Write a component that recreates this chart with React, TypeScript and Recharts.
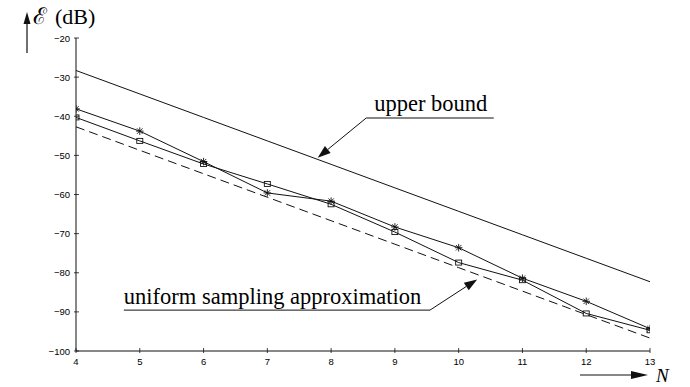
import React from 'react';
import { LineChart, Line, XAxis, YAxis, ReferenceLine } from 'recharts';

const nValues = [4, 5, 6, 7, 8, 9, 10, 11, 12, 13];
const upperBound = [-28.3, -34.3, -40.3, -46.3, -52.3, -58.3, -64.3, -70.3, -76.3, -82.3];
const starSeries = [-38.1, -43.8, -51.6, -59.6, -61.7, -68.3, -73.6, -81.4, -87.3, -94.3];
const squareSeries = [-40.3, -46.3, -52.2, -57.3, -62.5, -69.6, -77.4, -81.9, -90.4, -94.7];
const uniformApprox = [-42.7, -48.7, -54.7, -60.7, -66.7, -72.7, -78.7, -84.7, -90.7, -96.7];
const xTicks = [4, 5, 6, 7, 8, 9, 10, 11, 12, 13];
const yTicks = [-100, -90, -80, -70, -60, -50, -40, -30, -20];

// annotation anchors in data coordinates [N, dB]
const upperNoteLine = [[8.55, -40.45], [10.55, -40.45]];
const upperNoteTip = [7.79, -50.6];
const uniformNoteLine = [[4.75, -89.55], [9.55, -89.55]];
const uniformNoteTip = [10.29, -81.7];

const data = nValues.map((n, i) => ({
  n,
  upper: upperBound[i],
  star: starSeries[i],
  square: squareSeries[i],
  approx: uniformApprox[i],
}));

const INK = '#111';
const fmt = (v: number) => (v < 0 ? '\u2212' + Math.abs(v) : String(v));
const tickFont = { fontFamily: 'Liberation Sans, Arial, sans-serif', fontSize: 9.5, fill: '#000' };
const serif = 'Liberation Serif, Times New Roman, serif';

const BottomTick = (p: any) => (
  <g>
    <line x1={p.x} y1={p.y} x2={p.x} y2={p.y - 5} stroke={INK} strokeWidth={0.8} />
    <text x={p.x} y={p.y + 11.5} textAnchor="middle" {...tickFont}>{fmt(p.payload.value)}</text>
  </g>
);
const TopTick = (p: any) => (
  <line x1={p.x} y1={p.y} x2={p.x} y2={p.y + 5} stroke={INK} strokeWidth={0.8} />
);
const LeftTick = (p: any) => (
  <g>
    <line x1={p.x} y1={p.y} x2={p.x + 5} y2={p.y} stroke={INK} strokeWidth={0.8} />
    <text x={p.x - 4} y={p.y + 3.5} textAnchor="end" {...tickFont}>{fmt(p.payload.value)}</text>
  </g>
);
const RightTick = (p: any) => (
  <line x1={p.x} y1={p.y} x2={p.x - 5} y2={p.y} stroke={INK} strokeWidth={0.8} />
);

const StarDot = (p: any) => {
  const { cx, cy } = p;
  if (cx == null || cy == null) return <g key={p.index} />;
  const r = 3.8;
  const d = r * 0.72;
  return (
    <g key={p.index} stroke={INK} strokeWidth={0.9}>
      <line x1={cx - r} y1={cy} x2={cx + r} y2={cy} />
      <line x1={cx} y1={cy - r} x2={cx} y2={cy + r} />
      <line x1={cx - d} y1={cy - d} x2={cx + d} y2={cy + d} />
      <line x1={cx - d} y1={cy + d} x2={cx + d} y2={cy - d} />
    </g>
  );
};
const SquareDot = (p: any) => {
  const { cx, cy } = p;
  if (cx == null || cy == null) return <g key={p.index} />;
  return <rect key={p.index} x={cx - 3} y={cy - 2.5} width={6} height={5} fill="none" stroke={INK} strokeWidth={0.9} />;
};

const arrowShape = (p: any) => {
  const { x1, y1, x2, y2 } = p;
  const ang = Math.atan2(y2 - y1, x2 - x1);
  const L = 13, W = 4.5;
  const bx = x2 - L * Math.cos(ang), by = y2 - L * Math.sin(ang);
  const px = -Math.sin(ang) * W, py = Math.cos(ang) * W;
  return (
    <g>
      <line x1={x1} y1={y1} x2={bx} y2={by} stroke={INK} strokeWidth={1} />
      <polygon points={`${x2},${y2} ${bx + px},${by + py} ${bx - px},${by - py}`} fill={INK} />
    </g>
  );
};
const underlineShape = (text: string, dx: number, dy: number) => (p: any) => (
  <g>
    <line x1={p.x1} y1={p.y1} x2={p.x2} y2={p.y2} stroke={INK} strokeWidth={1} />
    <text x={p.x1 + dx} y={p.y1 + dy} fontFamily={serif} fontSize={22.5} fill="#000">{text}</text>
  </g>
);

export default function App() {
  return (
    <div style={{ position: 'absolute', left: 0, top: 0, width: 690, height: 387, background: '#fff' }}>
      <LineChart width={690} height={387} data={data} margin={{ top: 38, right: 40, bottom: 6, left: 36 }}>
        <XAxis dataKey="n" type="number" domain={[4, 13]} ticks={xTicks} allowDataOverflow height={30}
          tickSize={0} tickLine={false} axisLine={{ stroke: INK, strokeWidth: 1 }} tick={BottomTick} interval={0} />
        <XAxis xAxisId="top" dataKey="n" type="number" orientation="top" domain={[4, 13]} ticks={xTicks} allowDataOverflow height={0}
          tickSize={0} tickLine={false} axisLine={{ stroke: INK, strokeWidth: 1 }} tick={TopTick} interval={0} />
        <YAxis type="number" domain={[-100, -20]} ticks={yTicks} allowDataOverflow width={40}
          tickSize={0} tickLine={false} axisLine={{ stroke: INK, strokeWidth: 1 }} tick={LeftTick} interval={0} />
        <YAxis yAxisId="right" orientation="right" type="number" domain={[-100, -20]} ticks={yTicks} allowDataOverflow width={0}
          tickSize={0} tickLine={false} axisLine={{ stroke: INK, strokeWidth: 1 }} tick={RightTick} interval={0} />
        <Line dataKey="upper" stroke={INK} strokeWidth={1} dot={false} isAnimationActive={false} />
        <Line dataKey="approx" stroke={INK} strokeWidth={1} strokeDasharray="9 5" dot={false} isAnimationActive={false} />
        <Line dataKey="square" stroke={INK} strokeWidth={1} dot={SquareDot} isAnimationActive={false} />
        <Line dataKey="star" stroke={INK} strokeWidth={1} dot={StarDot} isAnimationActive={false} />
        <ReferenceLine segment={[{ x: upperNoteLine[0][0], y: upperNoteLine[0][1] }, { x: upperNoteLine[1][0], y: upperNoteLine[1][1] }]}
          shape={underlineShape('upper bound', 8, -7.5)} />
        <ReferenceLine segment={[{ x: upperNoteLine[0][0], y: upperNoteLine[0][1] }, { x: upperNoteTip[0], y: upperNoteTip[1] }]}
          shape={arrowShape} />
        <ReferenceLine segment={[{ x: uniformNoteLine[0][0], y: uniformNoteLine[0][1] }, { x: uniformNoteLine[1][0], y: uniformNoteLine[1][1] }]}
          shape={underlineShape('uniform sampling approximation', 0, -6)} />
        <ReferenceLine segment={[{ x: uniformNoteLine[1][0], y: uniformNoteLine[1][1] }, { x: uniformNoteTip[0], y: uniformNoteTip[1] }]}
          shape={arrowShape} />
      </LineChart>
      <svg width={690} height={387} style={{ position: 'absolute', left: 0, top: 0, pointerEvents: 'none' }}>
        <line x1={27} y1={53} x2={27} y2={22} stroke={INK} strokeWidth={1.2} />
        <polygon points="27,12 23.5,24 30.5,24" fill={INK} />
        <text x={33} y={24} fontFamily="DejaVu Serif, serif" fontSize={23} fill="#000">{'\u2130'}</text>
        <text x={55} y={24} fontFamily={serif} fontSize={22} fill="#000">(dB)</text>
        <line x1={580} y1={375} x2={632} y2={375} stroke={INK} strokeWidth={1.2} />
        <polygon points="648,375 631,371 631,379" fill={INK} />
        <text x={656} y={382} fontFamily={serif} fontStyle="italic" fontSize={19} fill="#000">N</text>
      </svg>
    </div>
  );
}
